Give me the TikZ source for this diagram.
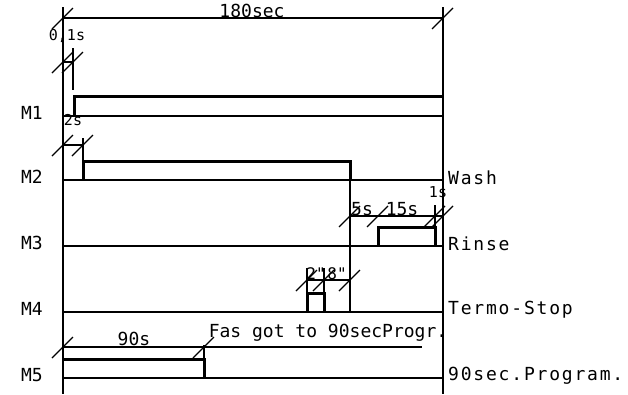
\documentclass[tikz,border=0pt]{standalone}
\usepackage{fontspec}
\setmonofont{DejaVu Sans Mono}
\newfontfamily\widemono[LetterSpace=10]{DejaVu Sans Mono}
\usepackage{tikz}
\usetikzlibrary{positioning}
\tikzset{
    axisline/.style={line width=1.5pt},
    sigline/.style={line width=1.4pt},
    pulse/.style={line width=3pt},
    dimline/.style={line width=1.2pt},
    siglabel/.style={
        font=\fontsize{18}{20}\selectfont\ttfamily, inner sep=0pt
    },
    sidelabel/.style={
        font=\fontsize{18}{20}\selectfont\widemono, inner sep=0pt
    },
    dimlabel/.style={
        font=\fontsize{15}{17}\selectfont\ttfamily, inner sep=0pt
    },
    tinylabel/.style={
        font=\fontsize{16}{18}\selectfont\ttfamily, inner sep=0pt
    }
}
\newcommand\dimslash[1]{\draw[dimline] (#1) ++(-11,11) -- ++(21,-21);}

\begin{document}
\begin{tikzpicture}[x=1pt, y=-1pt]
    \useasboundingbox (0,0) rectangle (628,394);

    % time axes
    \coordinate (lt) at (63,7);
    \coordinate (lb) at (63,394);
    \coordinate (rt) at (443,7);
    \coordinate (rb) at (443,394);
    \draw[axisline] (lt) -- (lb);
    \draw[axisline] (rt) -- (rb);

    % signal base lines and names
    \foreach \n/\y in {1/116, 2/180, 3/246, 4/312, 5/378} {
        \coordinate (b\n) at (63,\y);
        \coordinate (e\n) at (443,\y);
        \draw[sigline] (b\n) -- (e\n);
        \node[siglabel, left=20pt of b\n, yshift=3pt] (m\n) {M\n};
    }
    \node[sidelabel, right=5pt of e2, yshift=2pt] (wash) {Wash};
    \node[sidelabel, right=5pt of e3, yshift=2pt] (rinse) {Rinse};
    \node[sidelabel, right=5pt of e4, yshift=2pt] (termo) {Termo-Stop};
    \node[sidelabel, right=5pt of e5, yshift=2pt] (prog) {90sec.Program.};

    % pulses
    \draw[pulse] (74,116) -- (74,96) -- (443,96);
    \draw[pulse] (83,180) -- (83,161) -- (350,161) -- (350,180);
    \draw[pulse] (378,246) -- (378,227) -- (435,227) -- (435,246);
    \draw[pulse] (307,312) -- (307,293) -- (324,293) -- (324,312);
    \draw[pulse] (63,359) -- (204,359) -- (204,378);
    \draw[dimline] (350,180) -- (350,312);

    % 180sec
    \coordinate (t0) at (63,18);
    \coordinate (t1) at (443,18);
    \draw[dimline] (t0) -- (t1);
    \dimslash{t0} \dimslash{t1}
    \node[siglabel, anchor=base] (total) at (252,17) {180sec};

    % 0,1s
    \coordinate (d0) at (63,62);
    \coordinate (d1) at (73,62);
    \draw[dimline] (d0) -- (d1);
    \draw[dimline] (73,48) -- (73,90);
    \dimslash{d0} \dimslash{d1}
    \node[dimlabel] (delay1) at (67,36) {0,1s};

    % 2s
    \coordinate (f0) at (63,145);
    \coordinate (f1) at (83,145);
    \draw[dimline] (f0) -- (f1);
    \draw[dimline] (83,138) -- (83,161);
    \dimslash{f0} \dimslash{f1}
    \node[dimlabel] (delay2) at (73,120) {2s};

    % 5s / 15s / 1s
    \coordinate (r0) at (350,216);
    \coordinate (r1) at (378,216);
    \coordinate (r2) at (435,216);
    \coordinate (r3) at (443,216);
    \draw[dimline] (r0) -- (r3);
    \draw[dimline] (435,205) -- (435,227);
    \dimslash{r0} \dimslash{r1} \dimslash{r2} \dimslash{r3}
    \node[siglabel, anchor=base] (rinsewait) at (362,215) {5s};
    \node[siglabel, anchor=base] (rinselen) at (402,215) {15s};
    \node[dimlabel] (rinseend) at (438,192) {1s};

    % 2" / 8"
    \coordinate (s0) at (307,280);
    \coordinate (s1) at (324,280);
    \coordinate (s2) at (350,280);
    \draw[dimline] (s0) -- (s2);
    \draw[dimline] (307,268) -- (307,293);
    \draw[dimline] (324,268) -- (324,293);
    \dimslash{s0} \dimslash{s1} \dimslash{s2}
    \node[tinylabel, anchor=base] (stoplen) at (316,279) {2"};
    \node[tinylabel, anchor=base] (stopwait) at (337,279) {8"};

    % 90s
    \coordinate (p0) at (63,347);
    \coordinate (p1) at (204,347);
    \coordinate (p2) at (422,347);
    \draw[dimline] (p0) -- (p2);
    \draw[dimline] (204,345) -- (204,359);
    \dimslash{p0} \dimslash{p1}
    \node[siglabel, anchor=base] (short) at (134,345) {90s};
    \node[siglabel, anchor=base] (note) at (328,337) {Fas got to 90secProgr.};
\end{tikzpicture}
\end{document}
